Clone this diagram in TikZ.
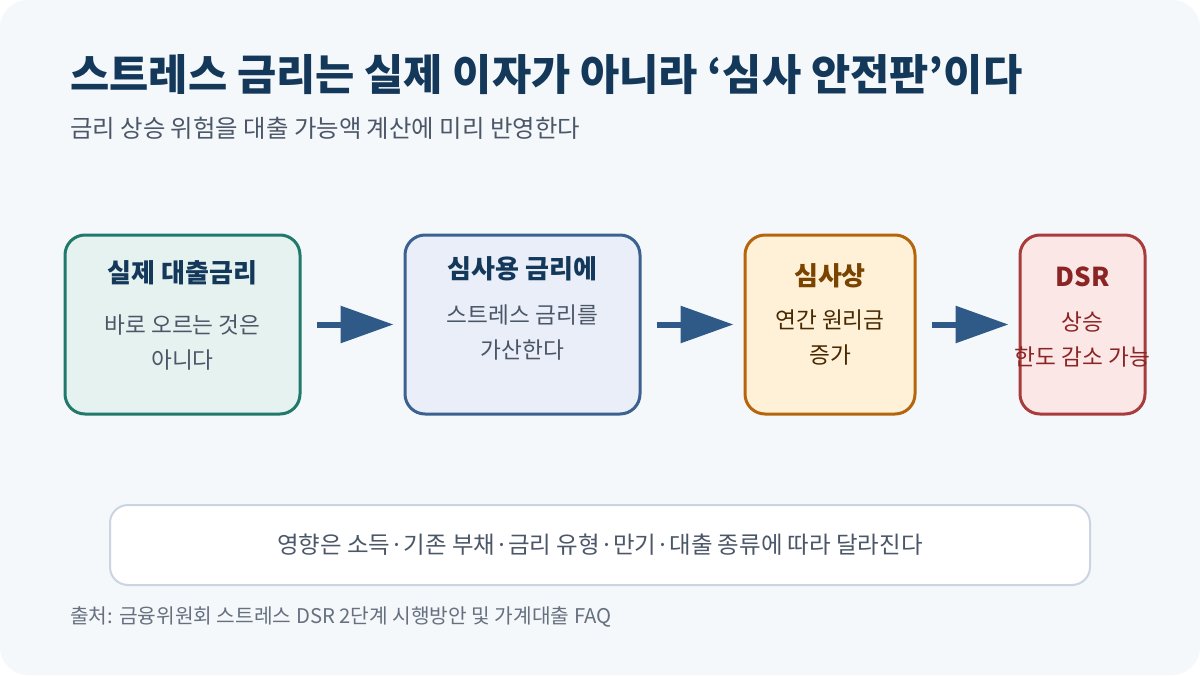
\documentclass[tikz,border=0pt]{standalone}
\usepackage{fontspec}
\setmainfont{Noto Sans CJK KR}
\usetikzlibrary{positioning, arrows.meta}

\definecolor{pagebg}{HTML}{F5F8FB}
\definecolor{navy}{HTML}{13385A}
\definecolor{slate}{HTML}{4B5768}
\definecolor{flowblue}{HTML}{2F5A87}
\definecolor{tealline}{HTML}{1F7A6B}
\definecolor{tealfill}{HTML}{E6F2EF}
\definecolor{blueline}{HTML}{3B6190}
\definecolor{bluefill}{HTML}{E9EEF8}
\definecolor{amberline}{HTML}{B5650C}
\definecolor{amberfill}{HTML}{FFF1D8}
\definecolor{amberink}{HTML}{7A4300}
\definecolor{redline}{HTML}{A83C3C}
\definecolor{redfill}{HTML}{FCE7E7}
\definecolor{redink}{HTML}{8B2525}
\definecolor{noteline}{HTML}{CBD5E1}

\begin{document}
\begin{tikzpicture}[
  x=0.75pt, y=-0.75pt,
  card/.style={draw, line width=2.25pt, rounded corners=15pt, minimum height=134.25pt},
  head/.style={font=\fontsize{19.5}{23}\selectfont\bfseries, text=navy},
  body/.style={font=\fontsize{17}{26.25}\selectfont, text=slate, align=center},
  flow/.style={-{Triangle[length=39.75pt, width=27pt]}, line width=4.5pt, draw=flowblue, shorten <=11.25pt, shorten >=7.5pt},
]
% page
\fill[white] (0,0) rectangle (1200,675);
\fill[pagebg, rounded corners=21pt] (0,0) rectangle (1200,675);

% heading
\node[anchor=west, inner sep=0pt, text=navy, font=\fontsize{32}{36}\selectfont\bfseries] (title) at (70,75) {스트레스 금리는 실제 이자가 아니라 ‘심사 안전판’이다};
\node[anchor=west, inner sep=0pt, text=slate, font=\fontsize{18.3}{22}\selectfont] (subtitle) at (70,128) {금리 상승 위험을 대출 가능액 계산에 미리 반영한다};

% cards
\node[card, draw=tealline, fill=tealfill, minimum width=176.25pt] (real) at (182.5,324.5) {};
\node[card, draw=blueline, fill=bluefill, minimum width=176.25pt] (stress) at (522.5,324.5) {};
\node[card, draw=amberline, fill=amberfill, minimum width=127.5pt] (review) at (830,324.5) {};
\node[card, draw=redline, fill=redfill, minimum width=93.75pt] (dsr) at (1082.5,324.5) {};

\node[head] (realhead) at (182.5,273) {실제 대출금리};
\node[body] (realbody) at (182.5,342.5) {바로 오르는 것은\\아니다};
\node[head] (stresshead) at (522.5,269) {심사용 금리에};
\node[body] (stressbody) at (522.5,332.5) {스트레스 금리를\\가산한다};
\node[head, text=amberink] (reviewhead) at (830,276) {심사상};
\node[body, text=amberink!60!black] (reviewbody) at (830,337.5) {연간 원리금\\증가};
\node[head, text=redink] (dsrhead) at (1082.5,277) {DSR};
\node[body, text=redink] (dsrbody) at (1082.5,339.5) {상승\\한도 감소 가능};

\draw[flow] (real) -- (stress);
\draw[flow] (stress) -- (review);
\draw[flow] (review) -- (dsr);

% note
\node[draw=noteline, fill=white, line width=1.5pt, rounded corners=13.5pt, minimum width=735pt, minimum height=60pt,
  text=slate, font=\fontsize{17.6}{21}\selectfont] (note) at (600,545) {영향은 소득·기존 부채·금리 유형·만기·대출 종류에 따라 달라진다};
\node[anchor=west, inner sep=0pt, text=slate!85, font=\fontsize{15.2}{18}\selectfont] (source) at (70,617) {출처: 금융위원회 스트레스 DSR 2단계 시행방안 및 가계대출 FAQ};
\end{tikzpicture}
\end{document}
